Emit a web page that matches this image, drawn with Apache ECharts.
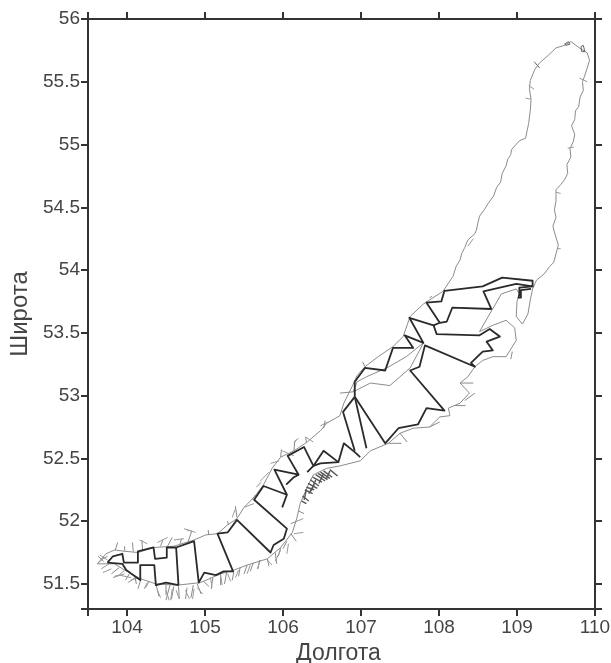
<!DOCTYPE html>
<html><head><meta charset="utf-8">
<style>html,body{margin:0;padding:0;background:#fff}#c{width:611px;height:663px}</style>
<script src="https://cdn.jsdelivr.net/npm/echarts@6/dist/echarts.min.js"></script>
</head><body><div id="c"></div>
<script>
const xTicks=[103.5,104,105,106,107,108,109,110];
const xLabels=[104,105,106,107,108,109,110];
const yTicks=[51.3,51.5,52,52.5,53,53.5,54,54.5,55,55.5,56];
const yLabels=[51.5,52,52.5,53,53.5,54,54.5,55,55.5,56];
const xTitle='Долгота', yTitle='Широта';

const coast=[[103.62,51.66],[103.73,51.74],[103.84,51.77],[103.97,51.76],[104.14,51.75],[104.35,51.79],[104.60,51.80],[104.86,51.85],[105.01,51.89],[105.16,51.90],[105.29,51.97],[105.41,52.02],[105.50,52.11],[105.63,52.19],[105.75,52.29],[105.86,52.42],[105.97,52.51],[106.14,52.56],[106.31,52.63],[106.48,52.72],[106.56,52.78],[106.73,52.84],[106.78,52.94],[106.90,53.09],[106.95,53.16],[107.05,53.23],[107.22,53.31],[107.41,53.39],[107.54,53.47],[107.63,53.63],[107.80,53.73],[108.05,53.83],[108.18,53.95],[108.22,54.03],[108.27,54.08],[108.29,54.13],[108.33,54.18],[108.37,54.24],[108.46,54.29],[108.48,54.32],[108.50,54.38],[108.52,54.43],[108.58,54.48],[108.63,54.53],[108.70,54.59],[108.74,54.66],[108.79,54.70],[108.81,54.77],[108.86,54.83],[108.88,54.88],[108.92,54.92],[108.93,54.96],[109.03,55.03],[109.11,55.05],[109.13,55.11],[109.15,55.17],[109.17,55.27],[109.18,55.36],[109.16,55.44],[109.17,55.51],[109.23,55.60],[109.29,55.65],[109.40,55.71],[109.50,55.77],[109.61,55.79],[109.69,55.82],[109.80,55.77],[109.90,55.73],[109.93,55.67],[109.88,55.57],[109.84,55.50],[109.85,55.43],[109.81,55.38],[109.79,55.30],[109.75,55.27],[109.74,55.20],[109.70,55.15],[109.74,55.08],[109.72,55.02],[109.68,54.97],[109.69,54.90],[109.64,54.84],[109.65,54.77],[109.61,54.72],[109.56,54.68],[109.50,54.64],[109.50,54.55],[109.48,54.48],[109.50,54.42],[109.46,54.35],[109.49,54.28],[109.53,54.20],[109.50,54.13],[109.47,54.06],[109.42,54.03],[109.35,53.97],[109.25,53.92],[109.20,53.85],[109.17,53.76],[109.14,53.65],[109.07,53.57],[108.99,53.63],[109.00,53.75],[109.03,53.81],[108.99,53.85],[108.80,53.81],[108.65,53.65],[108.52,53.51],[108.69,53.56],[108.86,53.60],[108.97,53.54],[108.99,53.44],[108.86,53.31],[108.69,53.31],[108.56,53.28],[108.46,53.23],[108.37,53.15],[108.27,53.10],[108.39,53.02],[108.27,52.94],[108.12,52.90],[108.14,52.84],[108.01,52.83],[107.88,52.75],[107.67,52.74],[107.50,52.70],[107.35,52.62],[107.12,52.56],[106.99,52.48],[106.73,52.44],[106.56,52.42],[106.39,52.37],[106.31,52.27],[106.22,52.14],[106.18,52.03],[106.12,51.91],[105.97,51.79],[105.80,51.70],[105.54,51.65],[105.37,51.61],[105.20,51.58],[104.94,51.51],[104.65,51.49],[104.37,51.50],[104.18,51.54],[103.97,51.61],[103.84,51.66],[103.73,51.66],[103.62,51.66]];
const olkhon=[[106.73,53.02],[106.90,53.03],[107.12,53.10],[107.37,53.08],[107.50,53.15],[107.63,53.22],[107.75,53.36],[107.80,53.42],[107.58,53.31],[107.33,53.22],[107.07,53.15],[106.95,53.11],[106.90,53.03]];
const northTip=[[[109.61,55.80],[109.66,55.82],[109.68,55.80],[109.63,55.79],[109.61,55.80]],[[109.82,55.78],[109.85,55.79],[109.87,55.74],[109.83,55.74],[109.82,55.78]],[[109.22,55.66],[109.29,55.61]]];

const rivers=[
[[103.90,51.63],[103.80,51.58]],[[103.97,51.61],[103.90,51.57],[103.84,51.56]],[[104.03,51.58],[103.98,51.53]],[[104.10,51.56],[104.12,51.50]],[[104.14,51.55],[104.05,51.53]],[[104.18,51.54],[104.14,51.46]],[[104.28,51.52],[104.24,51.47]],[[104.37,51.50],[104.41,51.40]],[[104.50,51.50],[104.50,51.41]],[[104.55,51.49],[104.50,51.37]],[[104.60,51.48],[104.57,51.38]],[[104.66,51.49],[104.67,51.38]],[[104.77,51.47],[104.75,51.38]],[[104.85,51.49],[104.82,51.39]],[[104.90,51.50],[104.95,51.42]],[[104.98,51.52],[105.05,51.48]],[[105.10,51.55],[105.08,51.46]],[[105.20,51.58],[105.20,51.49]],[[105.28,51.60],[105.25,51.50]],[[105.37,51.60],[105.35,51.53]],[[105.45,51.63],[105.43,51.56]],[[105.54,51.65],[105.50,51.58]],[[105.62,51.67],[105.58,51.60]],[[105.70,51.69],[105.68,51.62]],[[105.80,51.70],[105.82,51.64]],[[105.90,51.75],[105.92,51.66]],[[105.97,51.79],[105.94,51.72]],[[106.05,51.84],[106.00,51.78]],[[106.10,51.90],[106.17,51.84]],[[106.20,52.08],[106.27,52.06]],[[106.18,52.00],[106.10,51.98]],
[[103.70,51.68],[103.63,51.72]],[[103.75,51.72],[103.66,51.69]],[[103.85,51.77],[103.88,51.83]],[[103.97,51.76],[103.97,51.80]],[[104.08,51.76],[104.07,51.83]],[[104.20,51.77],[104.19,51.85]],[[104.43,51.80],[104.46,51.85]],[[104.52,51.80],[104.58,51.87]],[[104.68,51.82],[104.70,51.86]],[[104.78,51.83],[104.83,51.92],[104.77,51.93]],[[105.05,51.89],[105.04,51.93]],[[105.30,51.97],[105.29,52.00]],[[105.41,52.03],[105.39,52.12]],[[105.60,52.17],[105.65,52.21]],[[105.72,52.31],[105.66,52.27]],[[105.97,52.51],[105.98,52.57]],[[106.14,52.56],[106.15,52.63],[106.17,52.65]],[[106.30,52.63],[106.29,52.67]],[[106.52,52.74],[106.54,52.80]],
[[108.27,53.10],[108.44,53.10]],[[108.33,52.96],[108.46,53.02]],[[108.20,52.92],[108.34,52.92]],[[107.88,52.75],[108.01,52.79]],[[107.50,52.70],[107.59,52.63]],[[107.35,52.62],[107.52,52.62]],[[108.92,53.29],[108.94,53.35]],[[107.88,53.78],[107.91,53.79]],[[107.05,53.23],[107.02,53.27]]
];
const riverBranches=[
[[103.62,51.66],[103.71,51.71]],[[103.65,51.73],[103.75,51.69]],[[103.67,51.62],[103.77,51.66]],[[103.69,51.59],[103.80,51.62]],[[103.82,51.55],[103.97,51.58]],[[103.90,51.57],[104.05,51.55]],[[104.01,51.51],[104.11,51.55]],[[104.22,51.46],[104.26,51.51]],[[104.39,51.45],[104.43,51.39]],[[104.50,51.45],[104.54,51.37]],[[104.58,51.46],[104.56,51.37]],[[104.63,51.45],[104.67,51.38]],[[104.75,51.45],[104.80,51.38]],[[104.86,51.46],[104.84,51.38]],[[104.90,51.47],[104.97,51.42]],[[105.07,51.55],[105.09,51.47]],[[105.20,51.57],[105.22,51.49]],[[105.29,51.58],[105.33,51.52]],[[105.43,51.61],[105.39,51.55]],[[105.58,51.65],[105.54,51.58]],[[105.71,51.69],[105.67,51.62]],[[105.80,51.69],[105.86,51.65]],[[105.97,51.77],[105.90,51.68]],[[106.07,51.82],[106.05,51.74]],[[106.14,51.90],[106.26,51.91]],[[106.18,52.00],[106.26,52.02]],
[[104.16,51.85],[104.26,51.82]],[[104.39,51.83],[104.52,51.87]],[[104.60,51.85],[104.73,51.86]],[[104.73,51.94],[104.88,51.91]],[[105.39,52.10],[105.35,52.03]],[[105.50,52.11],[105.63,52.14]],[[105.71,52.32],[105.82,52.39]],[[105.84,52.46],[105.95,52.48]],[[105.99,52.56],[106.14,52.52]],[[106.14,52.63],[106.20,52.66]],[[106.29,52.67],[106.39,52.63]],[[106.48,52.76],[106.58,52.79]],
[[109.11,55.37],[109.18,55.36]],[[109.15,55.47],[109.22,55.44]],[[109.80,55.53],[109.90,55.50]],[[109.65,54.97],[109.73,54.98]],[[109.50,54.62],[109.56,54.61]],[[109.52,54.17],[109.56,54.17]],[[108.37,54.19],[108.44,54.25]]
];
const deltaRivers=[
[[106.25,52.20],[106.33,52.16]],[[106.28,52.25],[106.38,52.22]],[[106.32,52.30],[106.44,52.26]],[[106.38,52.35],[106.50,52.31]],[[106.45,52.38],[106.57,52.33]],[[106.52,52.40],[106.63,52.35]],[[106.60,52.41],[106.70,52.36]],[[106.27,52.17],[106.30,52.25]],[[106.36,52.24],[106.42,52.33]],[[106.24,52.16],[106.30,52.14]],[[106.30,52.27],[106.40,52.25]],[[106.35,52.33],[106.46,52.28]],[[106.42,52.37],[106.54,52.32]],[[106.48,52.39],[106.60,52.34]],[[106.33,52.22],[106.40,52.29]],[[106.46,52.30],[106.52,52.38]],[[106.56,52.34],[106.60,52.40]]
];
const regionLines=[
[[103.75,51.67],[103.82,51.72],[103.94,51.74],[103.96,51.67],[104.14,51.67],[104.14,51.76],[104.34,51.79],[104.36,51.70],[104.51,51.71],[104.51,51.79],[104.63,51.79],[104.86,51.84],[104.92,51.51],[104.99,51.59],[105.14,51.57],[105.24,51.60],[105.36,51.60],[105.16,51.90],[105.29,51.91],[105.41,52.01],[105.84,51.75],[105.88,51.81],[106.01,51.86],[106.05,51.94],[105.63,52.17],[105.75,52.28],[106.05,52.21],[105.99,52.11]],
[[104.63,51.79],[104.66,51.49]],
[[103.75,51.67],[103.94,51.66],[103.99,51.61],[104.17,51.53],[104.17,51.65],[104.35,51.65],[104.37,51.49],[104.50,51.51],[104.66,51.49]],
[[106.05,52.21],[105.89,52.41],[106.20,52.37],[106.06,52.52],[106.27,52.59],[106.39,52.44],[106.31,52.39]],
[[106.20,52.37],[106.14,52.35],[106.04,52.29]],
[[106.39,52.44],[106.52,52.56],[106.71,52.47],[106.78,52.62],[106.92,52.55],[106.99,52.51]],
[[106.39,52.44],[106.48,52.46],[106.71,52.47]],
[[106.92,52.99],[106.77,52.87],[106.92,52.56]],
[[106.92,52.99],[107.07,52.58]],
[[106.92,52.99],[107.31,52.62],[107.48,52.74],[107.73,52.77],[107.84,52.90],[108.07,52.88],[107.63,53.20],[107.75,53.23],[107.82,53.40],[108.46,53.23],[108.41,53.26],[108.56,53.35],[108.69,53.36],[108.61,53.43],[108.78,53.47],[108.65,53.53],[108.52,53.48],[107.97,53.49],[107.93,53.56],[107.62,53.62],[107.80,53.42],[107.56,53.48],[107.67,53.38],[107.41,53.38],[107.31,53.20],[107.05,53.22],[106.92,53.11],[106.92,52.99]],
[[107.93,53.56],[108.01,53.58],[107.84,53.74],[108.03,53.75],[108.07,53.835],[108.56,53.87],[108.81,53.94],[109.20,53.915],[109.20,53.87],[108.99,53.89],[108.57,53.83],[108.67,53.69],[108.17,53.70],[108.10,53.59],[108.01,53.58]],
[[109.20,53.87],[109.03,53.86],[109.03,53.81],[109.02,53.78],[109.05,53.78],[109.05,53.84],[109.18,53.85]]
];

const AXIS='#333', TXT='#444', FONT='"Liberation Sans",Arial,sans-serif';
function ax(pos,min,max,ticks,labels,margin,extra){
  return Object.assign({type:'value',position:pos,min,max,scale:true,splitLine:{show:false},
    axisLine:{onZero:false,lineStyle:{color:AXIS,width:2}},
    axisTick:{show:true,inside:false,length:7,lineStyle:{color:AXIS,width:2},customValues:ticks},
    axisLabel:labels?{show:true,customValues:labels,color:TXT,fontFamily:FONT,fontSize:19,margin,showMinLabel:true,showMaxLabel:true}:{show:false}
  },extra||{});
}
function lineSet(name,paths,color,width){
  return {name,type:'lines',coordinateSystem:'cartesian2d',polyline:true,xAxisIndex:0,yAxisIndex:0,silent:true,
    lineStyle:{color,width,opacity:1,join:'round'},
    data:paths.map(p=>({coords:p}))};
}
const chart=echarts.init(document.getElementById('c'),null,{renderer:'canvas'});
chart.setOption({animation:false,backgroundColor:'#fff',
  grid:{left:88,right:16,top:19,bottom:54,containLabel:false,outerBoundsMode:'none'},
  xAxis:[
    ax('bottom',103.5,110,xTicks,xLabels,9,{name:xTitle,nameLocation:'middle',nameGap:28,nameTextStyle:{color:TXT,fontFamily:FONT,fontSize:23,padding:[0,6,0,0]}}),
    ax('top',103.5,110,xTicks,null)
  ],
  yAxis:[
    ax('left',51.3,56,yTicks,yLabels,8,{name:yTitle,nameLocation:'middle',nameGap:55,nameTextStyle:{color:TXT,fontFamily:FONT,fontSize:24}}),
    ax('right',51.3,56,yTicks,null)
  ],
  series:[
    lineSet('Coast',[coast,olkhon],'#8c8c8c',1),
    lineSet('Rivers',rivers,'#8a8a8a',1),
    lineSet('Branches',riverBranches,'#9a9a9a',1),
    lineSet('Delta',deltaRivers,'#555',1.4),
    lineSet('North tip',northTip,'#666',1),
    lineSet('Regions',regionLines,'#2a2a2a',1.8)
  ]
});
</script></body></html>
